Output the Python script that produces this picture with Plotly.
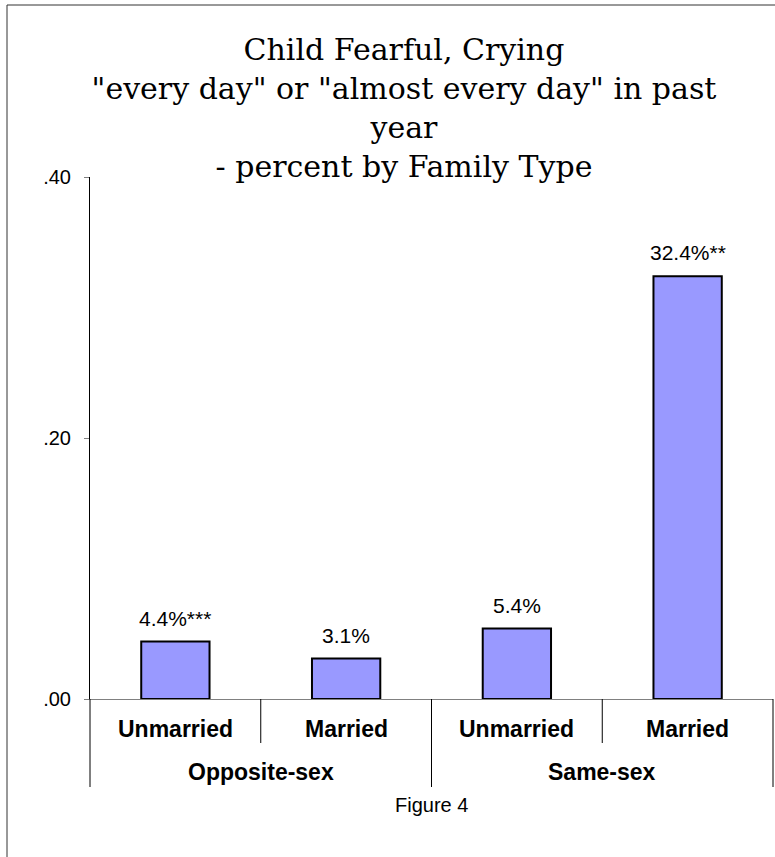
import plotly.graph_objects as go

# data
inner_labels = ["Unmarried", "Married", "Unmarried", "Married"]
outer_labels = ["Opposite-sex", "Same-sex"]
values = [0.044, 0.031, 0.054, 0.324]
value_labels = ["4.4%***", "3.1%", "5.4%", "32.4%**"]
y_ticks = [0.0, 0.2, 0.4]
y_tick_text = [".00", ".20", ".40"]
title_lines = [
    "Child Fearful, Crying",
    "\"every day\" or \"almost every day\" in past",
    "year",
    "- percent by Family Type",
]
caption = "Figure 4"

W, H = 775, 857
M_L, M_R, M_T, M_B = 90, 2, 177, 158
PLOT_W = W - M_L - M_R
PLOT_H = H - M_T - M_B


def px_x(x):
    # pixel -> paper x
    return (x - M_L) / PLOT_W


def px_y(y):
    # pixel -> paper y
    return (H - M_B - y) / PLOT_H


x_pos = list(range(len(values)))

fig = go.Figure()
fig.add_trace(go.Bar(
    x=x_pos,
    y=values,
    width=0.4,
    marker=dict(color="#9999FF", line=dict(color="black", width=2)),
    hoverinfo="skip",
))

# value labels above bars
for i, (v, lab) in enumerate(zip(values, value_labels)):
    fig.add_annotation(x=i, y=v, xref="x", yref="y", text=lab, showarrow=False,
                       yanchor="bottom", yshift=10,
                       font=dict(family="Arial", size=21, color="black"))

# category labels, first level
for i, lab in enumerate(inner_labels):
    fig.add_annotation(x=i, y=px_y(729), xref="x", yref="paper", text="<b>" + lab + "</b>",
                       showarrow=False, yanchor="middle",
                       font=dict(family="Arial", size=23, color="black"))

# second level
for j, lab in enumerate(outer_labels):
    fig.add_annotation(x=2 * j + 0.5, y=px_y(772), xref="x", yref="paper", text="<b>" + lab + "</b>",
                       showarrow=False, yanchor="middle",
                       font=dict(family="Arial", size=23, color="black"))

# divider lines under the axis
n = len(inner_labels)
for k in range(n + 1):
    bottom = 787 if k % 2 == 0 else 743
    fig.add_shape(type="line", xref="paper", yref="paper",
                  x0=k / n, x1=k / n, y0=0, y1=px_y(bottom),
                  line=dict(color="black", width=1))

fig.add_annotation(x=0.5, y=px_y(805), xref="paper", yref="paper", text=caption,
                   showarrow=False, yanchor="middle",
                   font=dict(family="Arial", size=20, color="black"))

# chart border (only top and left visible)
fig.add_shape(type="rect", xref="paper", yref="paper",
              x0=px_x(7), x1=px_x(W + 40), y0=px_y(5), y1=px_y(H + 40),
              line=dict(color="#333333", width=1))

fig.update_layout(
    width=W, height=H, autosize=False,
    margin=dict(l=M_L, r=M_R, t=M_T, b=M_B),
    paper_bgcolor="white", plot_bgcolor="white",
    showlegend=False,
    title=dict(text="<br>".join(title_lines), x=404 / W, xanchor="center",
               y=1 - 60 / H, yanchor="top", xref="container", yref="container",
               font=dict(family="DejaVu Serif", size=30, color="black")),
    xaxis=dict(range=[-0.5, 3.5], showticklabels=False, showgrid=False, zeroline=False,
               showline=True, linecolor="#808080", linewidth=1, ticks=""),
    yaxis=dict(range=[0, 0.4], tickvals=y_ticks, ticktext=y_tick_text, showgrid=False,
               zeroline=False, showline=True, linecolor="black", linewidth=1,
               ticks="outside", ticklen=5, tickcolor="#808080", ticklabelstandoff=9,
               tickfont=dict(family="Arial", size=20, color="black")),
)

# page has a default 8px body margin, drop it so the figure sits at 0,0
fig.write_html("out.html", config={"displayModeBar": False},
               post_script="document.body.style.margin='0';document.body.style.overflow='hidden';")
